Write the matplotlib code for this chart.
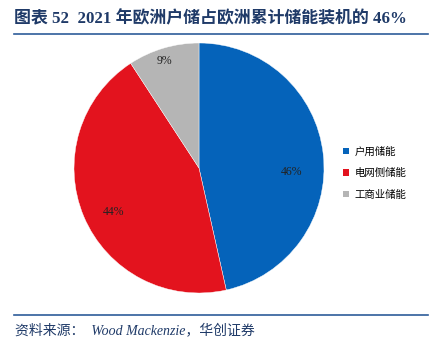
import matplotlib
matplotlib.use("Agg")
import matplotlib.pyplot as plt
from matplotlib.patches import Patch
from matplotlib.lines import Line2D

plt.rcParams["font.family"] = ["Noto Sans CJK SC", "DejaVu Sans"]

categories = ["户用储能", "电网侧储能", "工商业储能"]
shares = [46.5, 44.3, 9.2]
labels = ["46%", "44%", "9%"]
colors = ["#0563BA", "#E3131E", "#B5B5B5"]

navy = "#1F3A68"
line_c = "#2E5C9A"

fig = plt.figure(figsize=(4.33, 3.43), dpi=100)
fig.patch.set_facecolor("white")
W, H = 433, 343

# title and rules
fig.text(14 / W, 1 - 19 / H, "图表 52  2021 年欧洲户储占欧洲累计储能装机的 46%",
         fontsize=12.2, fontweight="bold", color=navy, va="center", ha="left",
         family=["Liberation Serif", "Noto Sans CJK SC"])
fig.add_artist(Line2D([14 / W, 428 / W], [1 - 34 / H, 1 - 34 / H],
                      color=line_c, linewidth=1.2))
fig.add_artist(Line2D([14 / W, 428 / W], [1 - 315 / H, 1 - 315 / H],
                      color=line_c, linewidth=1.2))
fig.text(15 / W, 1 - 330 / H, "资料来源：  Wood Mackenzie，华创证券",
         fontsize=10, style="italic", color=navy, va="center", ha="left",
         family=["Liberation Serif", "Noto Sans CJK SC"])

# pie
cx, cy, r = 199, 168, 125
ax = fig.add_axes([(cx - r) / W, 1 - (cy + r) / H, 2 * r / W, 2 * r / H])
wedges, _ = ax.pie(shares, colors=colors, startangle=90, counterclock=False,
                   wedgeprops=dict(linewidth=0.3, edgecolor="white"))
ax.set_xlim(-1, 1)
ax.set_ylim(-1, 1)
ax.set_aspect("equal")

label_pos = [(0.74, -0.03), (-0.68, -0.35), (-0.28, 0.855)]
for lab, (px, py) in zip(labels, label_pos):
    ax.text(px, py, lab, ha="center", va="center", fontsize=8.5,
            family=["Liberation Serif"], color="#222222")

handles = [Patch(facecolor=c, edgecolor="none", label=n)
           for c, n in zip(colors, categories)]
fig.legend(handles=handles, loc="center left",
           bbox_to_anchor=(334 / W, 1 - 173 / H), frameon=False,
           fontsize=7.5, handlelength=0.55, handleheight=0.55,
           handletextpad=0.5, labelspacing=1.1)

fig.savefig("out.png", dpi=100, facecolor="white")
